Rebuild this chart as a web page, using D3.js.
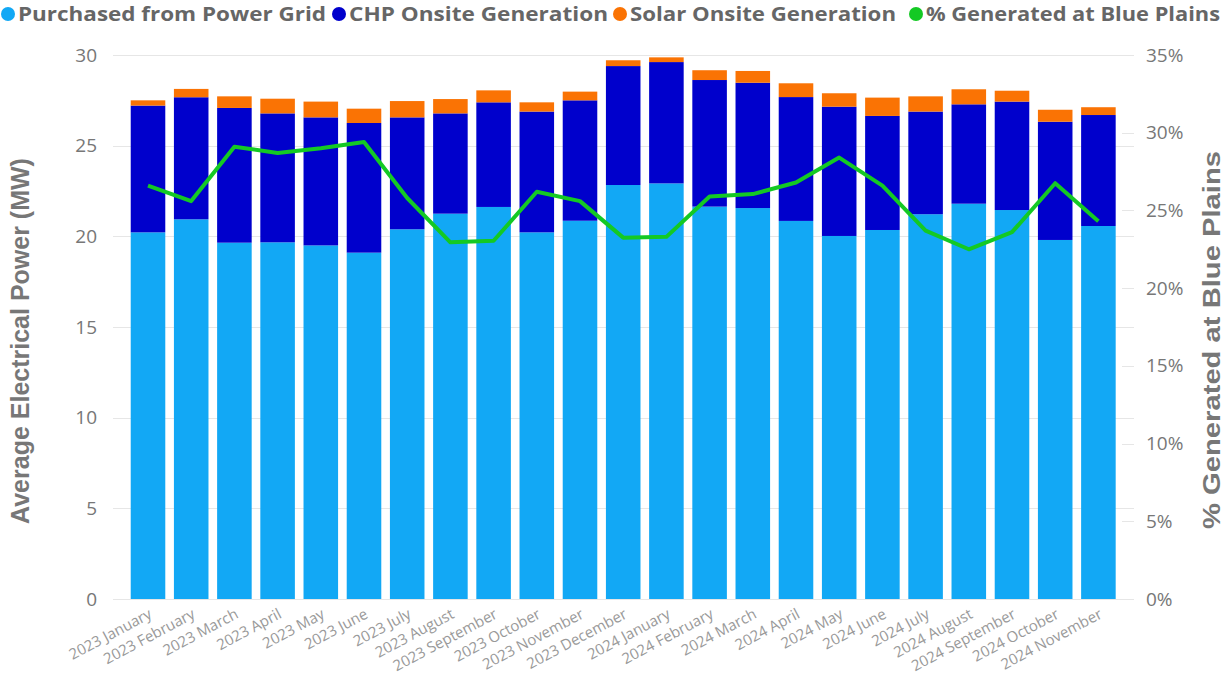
<!DOCTYPE html>
<html>
<head>
<meta charset="utf-8">
<script src="https://cdn.jsdelivr.net/npm/d3@7"></script>
<style>
    body { margin:0; background:#fff; }
    svg { display:block; }
</style>
</head>
<body>
<svg id="chart"></svg>
<script>
var screen = {width:1226, height:684};
var plot = {left:126.4, right:1120, top:55, bottom:599};

// month labels on the x axis
var months = ["2023 January","2023 February","2023 March","2023 April","2023 May","2023 June",
    "2023 July","2023 August","2023 September","2023 October","2023 November","2023 December",
    "2024 January","2024 February","2024 March","2024 April","2024 May","2024 June",
    "2024 July","2024 August","2024 September","2024 October","2024 November"];

// MW, stacked
var gridMW  = [20.22,20.94,19.65,19.67,19.50,19.10,20.39,21.25,21.62,20.22,20.86,22.83,
               22.92,21.64,21.56,20.85,20.02,20.35,21.22,21.80,21.45,19.80,20.57];
var chpMW   = [6.99,6.73,7.43,7.11,7.06,7.15,6.17,5.53,5.77,6.66,6.64,6.56,
               6.69,6.98,6.91,6.83,7.13,6.29,5.66,5.48,5.98,6.52,6.12];
var solarMW = [0.29,0.46,0.64,0.81,0.87,0.79,0.90,0.79,0.66,0.51,0.48,0.32,
               0.26,0.54,0.65,0.76,0.74,1.01,0.84,0.83,0.60,0.66,0.43];

// % generated onsite (right axis)
var pctBluePlains = [26.6,25.6,29.1,28.7,29.0,29.4,25.8,22.95,23.05,26.2,25.6,23.25,
                     23.3,25.9,26.05,26.8,28.4,26.6,23.7,22.5,23.6,26.75,24.3];

var leftTicks  = [0,5,10,15,20,25,30];
var rightTicks = [0,5,10,15,20,25,30,35];

var seriesNames  = ["Purchased from Power Grid","CHP Onsite Generation","Solar Onsite Generation"];
var lineName     = "% Generated at Blue Plains";
var seriesColors = ["#12A8F5","#0000CC","#FA7304"];
var lineColor    = "#14C924";

var draw = function()
    {
        var svg = d3.select("#chart")
            .attr("width", screen.width)
            .attr("height", screen.height);

        var table = months.map(function(m, i)
            {
                return {month:m, grid:gridMW[i], chp:chpMW[i], solar:solarMW[i], pct:pctBluePlains[i]};
            });

        var xscale = d3.scaleBand()
            .domain(months)
            .range([plot.left, plot.right])
            .paddingInner(0.2)
            .paddingOuter(0.1);

        var yscale = d3.scaleLinear()
            .domain([0,30])
            .range([plot.bottom, plot.top]);

        var pscale = d3.scaleLinear()
            .domain([0,35])
            .range([plot.bottom, plot.top]);

        // gridlines from the left axis
        svg.append("g")
            .attr("id", "grid")
            .selectAll("line")
            .data(leftTicks)
            .enter()
            .append("line")
            .attr("x1", 113)
            .attr("x2", 1134)
            .attr("y1", function(d){ return Math.round(yscale(d)) + 0.5; })
            .attr("y2", function(d){ return Math.round(yscale(d)) + 0.5; })
            .attr("stroke", "#e6e6e6")
            .attr("stroke-width", 1);

        // short ticks for right axis
        svg.append("g")
            .selectAll("line")
            .data(rightTicks)
            .enter()
            .append("line")
            .attr("x1", 1122)
            .attr("x2", 1134)
            .attr("y1", function(d){ return Math.round(pscale(d)) + 0.5; })
            .attr("y2", function(d){ return Math.round(pscale(d)) + 0.5; })
            .attr("stroke", "#e6e6e6");

        var stack = d3.stack().keys(["grid","chp","solar"]);
        var layers = stack(table);

        svg.append("g")
            .attr("id", "bars")
            .selectAll("g")
            .data(layers)
            .enter()
            .append("g")
            .attr("fill", function(d, i){ return seriesColors[i]; })
            .selectAll("rect")
            .data(function(d){ return d; })
            .enter()
            .append("rect")
            .attr("x", function(d){ return xscale(d.data.month); })
            .attr("width", xscale.bandwidth())
            .attr("y", function(d){ return yscale(d[1]); })
            .attr("height", function(d){ return yscale(d[0]) - yscale(d[1]); });

        var line = d3.line()
            .x(function(d){ return xscale(d.month) + xscale.bandwidth()/2; })
            .y(function(d){ return pscale(d.pct); });

        svg.append("path")
            .datum(table)
            .attr("d", line)
            .attr("fill", "none")
            .attr("stroke", lineColor)
            .attr("stroke-width", 4)
            .attr("stroke-linejoin", "round");

        // left axis
        var yAxis = d3.axisLeft(yscale).tickValues(leftTicks).tickSize(0).tickPadding(0);
        var gy = svg.append("g")
            .attr("transform", "translate(97,0)")
            .call(yAxis);
        gy.select(".domain").remove();
        gy.selectAll("text")
            .attr("font-family", "'Open Sans', sans-serif")
            .attr("font-size", 19)
            .attr("fill", "#777");

        // right axis
        var rAxis = d3.axisRight(pscale).tickValues(rightTicks).tickSize(0).tickPadding(0)
            .tickFormat(function(d){ return d + "%"; });
        var gr = svg.append("g")
            .attr("transform", "translate(1146,0)")
            .call(rAxis);
        gr.select(".domain").remove();
        gr.selectAll("text")
            .attr("font-family", "'Open Sans', sans-serif")
            .attr("font-size", 19)
            .attr("fill", "#777");

        // x labels
        var xAxis = d3.axisBottom(xscale).tickSize(0).tickPadding(0);
        var gx = svg.append("g")
            .attr("transform", "translate(0," + (plot.bottom + 9) + ")")
            .call(xAxis);
        gx.select(".domain").remove();
        gx.selectAll("text")
            .attr("font-family", "'Open Sans', sans-serif")
            .attr("font-size", 15)
            .attr("fill", "#999")
            .attr("text-anchor", "end")
            .attr("dy", "0.7em")
            .attr("transform", "rotate(-28)");

        // axis titles
        svg.append("text")
            .attr("transform", "translate(29,341) rotate(-90)")
            .attr("text-anchor", "middle")
            .attr("font-family", "'Liberation Sans', Arial, sans-serif")
            .attr("font-weight", "bold")
            .attr("font-size", 25)
            .attr("fill", "#777")
            .text("Average Electrical Power (MW)");

        svg.append("text")
            .attr("transform", "translate(1220,340) rotate(-90)")
            .attr("text-anchor", "middle")
            .attr("font-family", "'Liberation Sans', Arial, sans-serif")
            .attr("font-weight", "bold")
            .attr("font-size", 24)
            .attr("fill", "#777")
            .attr("textLength", 378)
            .attr("lengthAdjust", "spacingAndGlyphs")
            .text("% Generated at Blue Plains");

        drawLegend(svg);
    };

var drawLegend = function(svg)
    {
        var items = seriesNames.map(function(n, i){ return {name:n, color:seriesColors[i]}; })
            .concat([{name:lineName, color:lineColor}]);
        var starts = [8, 339, 620, 916];
        var widths = [308, 259, 266, 294];

        var g = svg.append("g").attr("id", "legend");
        var item = g.selectAll("g")
            .data(items)
            .enter()
            .append("g")
            .attr("transform", function(d, i){ return "translate(" + starts[i] + ",14)"; });
        item.append("circle")
            .attr("r", 7)
            .attr("fill", function(d){ return d.color; });
        item.append("text")
            .attr("x", 10)
            .attr("y", 7)
            .attr("font-family", "'Open Sans', sans-serif")
            .attr("font-weight", "bold")
            .attr("font-size", 20)
            .attr("fill", "#666")
            .attr("textLength", function(d, i){ return widths[i]; })
            .attr("lengthAdjust", "spacingAndGlyphs")
            .text(function(d){ return d.name; });
    };

draw();
</script>
</body>
</html>
